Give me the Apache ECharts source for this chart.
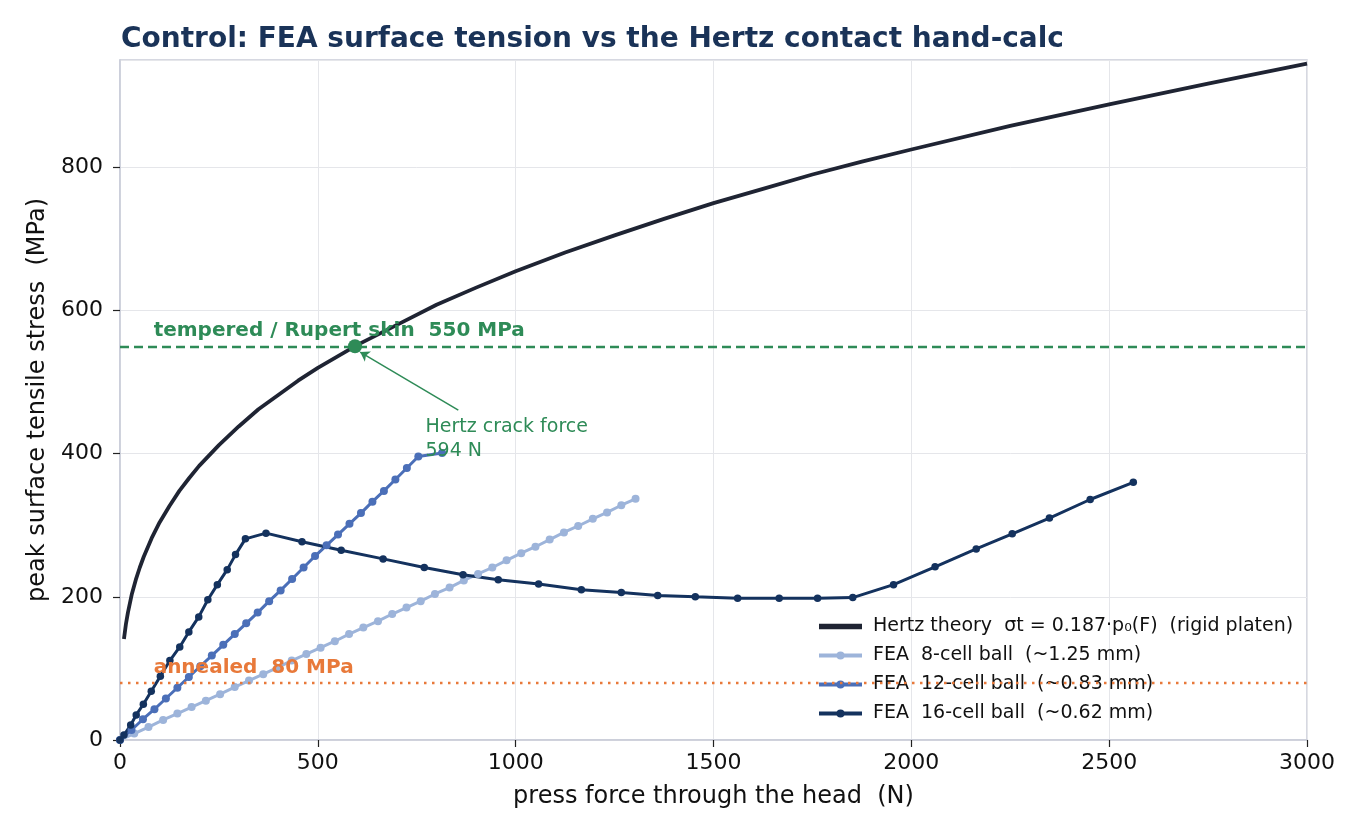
<!DOCTYPE html>
<html>
<head>
<meta charset="utf-8">
<script src="https://cdn.jsdelivr.net/npm/echarts@6/dist/echarts.min.js"></script>
<style>
  html, body { margin: 0; padding: 0; background: #fff; }
  #chart { width: 1364px; height: 837px; }
</style>
</head>
<body>
<div id="chart"></div>
<script>
// Hertz theory curve
var hertzForce  = [10, 15, 20, 30, 40, 50, 60, 80, 100, 125, 150, 175, 200, 250, 300, 350, 400, 450, 500, 550, 600, 700, 800, 900, 1000, 1125, 1250, 1375, 1500, 1625, 1750, 1875, 2000, 2250, 2500, 2750, 3000];
var hertzStress = [141, 162, 178, 204, 224, 241, 256, 282, 304, 327, 348, 366, 383, 412, 438, 462, 482, 502, 520, 536, 552, 580, 608, 632, 655, 681, 705, 728, 750, 770, 790, 808, 825, 858, 888, 917, 945];

// FEA 8-cell ball
var fea8Force  = [0, 36, 72, 109, 145, 181, 217, 253, 290, 326, 362, 398, 434, 471, 507, 543, 579, 615, 652, 688, 724, 760, 796, 833, 869, 905, 941, 977, 1014, 1050, 1086, 1122, 1158, 1195, 1231, 1267, 1303];
var fea8Stress = [0, 9, 18, 28, 37, 46, 55, 64, 74, 83, 92, 101, 111, 120, 129, 138, 148, 157, 166, 176, 185, 194, 204, 213, 223, 232, 241, 251, 261, 270, 280, 290, 299, 309, 318, 328, 337];

// FEA 12-cell ball
var fea12Force  = [0, 29, 58, 87, 116, 145, 174, 203, 232, 261, 290, 319, 348, 377, 406, 435, 464, 493, 522, 551, 580, 609, 638, 667, 696, 725, 754, 814];
var fea12Stress = [0, 14, 29, 43, 58, 73, 88, 103, 118, 133, 148, 163, 178, 194, 209, 225, 241, 257, 272, 287, 302, 317, 333, 348, 364, 380, 396, 401];

// FEA 16-cell ball
var fea16Force  = [0, 10, 27, 41, 59, 79, 102, 126, 151, 174, 199, 222, 246, 271, 292, 317, 369, 460, 559, 665, 769, 867, 956, 1058, 1166, 1267, 1359, 1454, 1561, 1666, 1763, 1852, 1955, 2060, 2164, 2255, 2349, 2452, 2561];
var fea16Stress = [0, 7, 21, 35, 50, 68, 89, 111, 130, 151, 172, 196, 217, 238, 259, 281, 289, 277, 265, 253, 241, 231, 224, 218, 210, 206, 202, 200, 198, 198, 198, 199, 217, 242, 267, 288, 310, 336, 360];

// reference levels and the Hertz crack point
var temperedLimit = 550;
var annealedLimit = 80;
var crackForce = 594;
var crackStress = 550;

var xTicks = { min: 0, max: 3000, interval: 500 };
var yTicks = { min: 0, max: 950, interval: 200 };

var FONT = 'DejaVu Sans';
var GREEN = '#2e8b57';
var ORANGE = '#e8793a';
var HERTZ_NAME = 'Hertz theory  σt = 0.187·p\u2080(F)  (rigid platen)';

function pairs(xs, ys) {
  return xs.map(function (x, i) { return [x, ys[i]]; });
}

var chart = echarts.init(document.getElementById('chart'));

var axisCommon = {
  type: 'value',
  nameLocation: 'middle',
  nameTextStyle: { fontFamily: FONT, fontSize: 24, color: '#111' },
  axisLine: { show: true, lineStyle: { color: '#c9ccd8', width: 1.5 } },
  axisTick: { show: true, length: 7, lineStyle: { color: '#222', width: 1.2 } },
  splitLine: { show: true, lineStyle: { color: '#e5e6ea', width: 1 } }
};

var option = {
  animation: false,
  backgroundColor: '#ffffff',
  textStyle: { fontFamily: FONT },
  title: {
    text: 'Control: FEA surface tension vs the Hertz contact hand-calc',
    left: 116,
    top: 21,
    textStyle: { fontFamily: FONT, fontSize: 28, fontWeight: 'bold', color: '#1a3358' }
  },
  grid: {
    left: 120, right: 57, top: 60, bottom: 97,
    show: true, borderColor: '#c9ccd8', borderWidth: 1.5,
    containLabel: false
  },
  legend: {
    orient: 'vertical',
    left: 812,
    top: 612,
    itemWidth: 43,
    itemHeight: 10,
    itemGap: 10,
    lineStyle: { width: 4 },
    textStyle: { fontFamily: FONT, fontSize: 19, color: '#111', padding: [0, 0, 0, 6] },
    data: [
      { name: HERTZ_NAME, icon: 'path://M0,0H43V5.5H0Z' },
      'FEA  8-cell ball  (~1.25 mm)',
      'FEA  12-cell ball  (~0.83 mm)',
      'FEA  16-cell ball  (~0.62 mm)'
    ]
  },
  xAxis: Object.assign({}, axisCommon, {
    min: xTicks.min, max: xTicks.max, interval: xTicks.interval,
    name: 'press force through the head  (N)',
    nameGap: 45,
    axisLabel: { fontFamily: FONT, fontSize: 22, color: '#111', margin: 12,
                 formatter: function (v) { return String(v); } }
  }),
  yAxis: Object.assign({}, axisCommon, {
    min: yTicks.min, max: yTicks.max, interval: yTicks.interval,
    name: 'peak surface tensile stress  (MPa)',
    nameGap: 70,
    axisLabel: { fontFamily: FONT, fontSize: 22, color: '#111', margin: 17, showMaxLabel: false,
                 formatter: function (v) { return String(v); } }
  }),
  series: [
    {
      name: 'crack',
      type: 'scatter',
      z: 6,
      symbolSize: 14,
      itemStyle: { color: GREEN, opacity: 1 },
      data: [[crackForce, crackStress]],
      markLine: {
        silent: true,
        symbol: ['none', 'none'],
        label: { show: false },
        data: [
          [
            { coord: [xTicks.min, temperedLimit], lineStyle: { color: GREEN, width: 2.4, type: [9, 5] } },
            { coord: [xTicks.max, temperedLimit] }
          ],
          [
            { coord: [xTicks.min, annealedLimit], lineStyle: { color: ORANGE, width: 2.4, type: [2.5, 5.5] } },
            { coord: [xTicks.max, annealedLimit] }
          ],
          [
            { coord: [855, 461], symbol: 'none', lineStyle: { color: GREEN, width: 1.5, type: 'solid' } },
            { coord: [607, 542], symbol: 'arrow', symbolSize: 9 }
          ]
        ]
      },
      markPoint: {
        silent: true,
        symbol: 'circle',
        symbolSize: 0,
        data: [
          {
            coord: [85, 572],
            label: {
              show: true, position: 'right', distance: 0,
              formatter: 'tempered / Rupert skin  550 MPa',
              fontFamily: FONT, fontSize: 20, fontWeight: 'bold', color: GREEN
            }
          },
          {
            coord: [85, 101],
            label: {
              show: true, position: 'right', distance: 0,
              formatter: 'annealed  80 MPa',
              fontFamily: FONT, fontSize: 20, fontWeight: 'bold', color: ORANGE
            }
          },
          {
            coord: [772, 421],
            label: {
              show: true, position: 'right', distance: 0,
              formatter: 'Hertz crack force\n594 N',
              lineHeight: 24,
              fontFamily: FONT, fontSize: 19, color: GREEN
            }
          }
        ]
      }
    },
    {
      name: HERTZ_NAME,
      type: 'line',
      z: 4,
      showSymbol: false,
      symbol: 'none',
      lineStyle: { color: '#1f2433', width: 3.8, join: 'round' },
      itemStyle: { color: '#1f2433' },
      data: pairs(hertzForce, hertzStress)
    },
    {
      name: 'FEA  8-cell ball  (~1.25 mm)',
      type: 'line',
      z: 3,
      symbol: 'circle',
      symbolSize: 8,
      lineStyle: { color: '#9db4da', width: 3 },
      itemStyle: { color: '#9db4da' },
      data: pairs(fea8Force, fea8Stress)
    },
    {
      name: 'FEA  12-cell ball  (~0.83 mm)',
      type: 'line',
      z: 3,
      symbol: 'circle',
      symbolSize: 8,
      lineStyle: { color: '#4b6fb8', width: 3 },
      itemStyle: { color: '#4b6fb8' },
      data: pairs(fea12Force, fea12Stress)
    },
    {
      name: 'FEA  16-cell ball  (~0.62 mm)',
      type: 'line',
      z: 3,
      symbol: 'circle',
      symbolSize: 7.5,
      lineStyle: { color: '#14325e', width: 3 },
      itemStyle: { color: '#14325e' },
      data: pairs(fea16Force, fea16Stress)
    }
  ]
};

chart.setOption(option);
</script>
</body>
</html>
